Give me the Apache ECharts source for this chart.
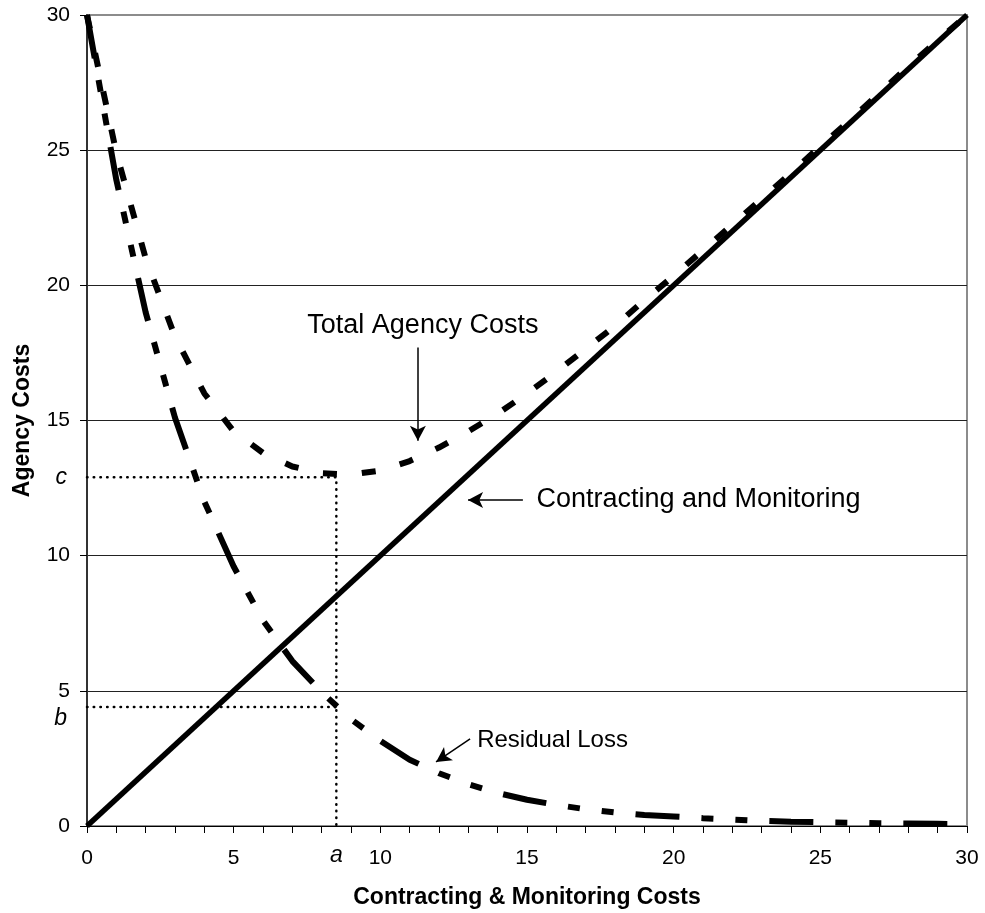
<!DOCTYPE html>
<html>
<head>
<meta charset="utf-8">
<title>Agency Costs</title>
<script src="https://cdn.jsdelivr.net/npm/echarts@6/dist/echarts.min.js"></script>
<style>
  html, body { margin: 0; padding: 0; background: #fff; }
  #chart { width: 985px; height: 913px; }
</style>
</head>
<body>
<div id="chart"></div>
<script>
// contracting & monitoring cost (x) at each step
const costX = [0, 1, 2, 3, 4, 5, 6, 7, 8, 9, 10, 11, 12, 13, 14, 15,
  16, 17, 18, 19, 20, 21, 22, 23, 24, 25, 26, 27, 28, 29, 30];
// residual loss
const residualLoss = [30, 23.9, 19.0, 15.1, 12.0, 9.6, 7.6, 6.1, 4.95, 3.95, 3.15,
  2.45, 1.95, 1.55, 1.22, 0.97, 0.78, 0.62, 0.5, 0.41, 0.35,
  0.29, 0.24, 0.19, 0.16, 0.14, 0.12, 0.1, 0.09, 0.08, 0.07];
// total agency costs
const totalCosts = [30, 24.9, 21.0, 18.1, 16.0, 14.6, 13.8, 13.3, 13.05, 13.0, 13.15,
  13.5, 14.0, 14.6, 15.25, 16.0, 16.8, 17.65, 18.5, 19.45, 20.35,
  21.3, 22.25, 23.2, 24.15, 25.15, 26.1, 27.1, 28.1, 29.05, 30];
// contracting and monitoring line (45 degree)
const contractX = [0, 30];
const contractY = [0, 30];
// marked optimum: a on x, b and c on y
const pointA = 8.5;
const pointB = 4.4;
const pointC = 12.9;
const yTicks = [0, 5, 10, 15, 20, 25, 30];

const FONT = '"Liberation Sans", Arial, sans-serif';

const chart = echarts.init(document.getElementById('chart'));

const dotted = { color: '#000', width: 2.5, type: [0.5, 6.2], cap: 'round' };

const option = {
  animation: false,
  backgroundColor: '#fff',
  textStyle: { fontFamily: FONT, color: '#000' },
  grid: {
    left: 87, right: 18, top: 15, bottom: 87,
    containLabel: false,
    outerBoundsMode: 'none',
    show: true,
    borderColor: '#8c8c8c',
    borderWidth: 2
  },
  xAxis: {
    type: 'value',
    min: 0, max: 30, interval: 1,
    name: 'Contracting & Monitoring Costs',
    nameLocation: 'middle',
    nameGap: 60,
    nameTextStyle: { fontFamily: FONT, fontWeight: 'bold', fontSize: 23, color: '#000' },
    axisLine: { show: true, onZero: false, lineStyle: { color: '#000', width: 1 } },
    axisTick: { show: true, length: 7, lineStyle: { color: '#000' } },
    axisLabel: {
      fontFamily: FONT, fontSize: 21, color: '#000', margin: 22,
      formatter: v => (v % 5 === 0 ? String(v) : '')
    },
    splitLine: { show: false }
  },
  yAxis: {
    type: 'value',
    min: 0, max: 30, interval: 5,
    name: 'Agency Costs',
    nameLocation: 'middle',
    nameGap: 53,
    nameTextStyle: { fontFamily: FONT, fontWeight: 'bold', fontSize: 23, color: '#000' },
    axisLine: { show: true, onZero: false, lineStyle: { color: '#333', width: 2 } },
    axisTick: { show: true, length: 7, lineStyle: { color: '#000' } },
    axisLabel: { fontFamily: FONT, fontSize: 21, color: '#000', margin: 17 },
    splitLine: {
      show: true,
      lineStyle: { color: yTicks.map(t => (t === 30 ? '#8c8c8c' : '#222')), width: 1 }
    }
  },
  series: [
    {
      name: 'Guides',
      type: 'line',
      symbol: 'none',
      z: 1,
      lineStyle: dotted,
      data: [[0, pointC], [pointA, pointC], [pointA, 0]]
    },
    {
      name: 'Guides b',
      type: 'line',
      symbol: 'none',
      z: 1,
      lineStyle: dotted,
      data: [[0, pointB], [pointA, pointB]]
    },
    {
      name: 'Total Agency Costs',
      type: 'line',
      symbol: 'none',
      z: 2,
      lineStyle: { color: '#000', width: 6, type: [14, 25], cap: 'butt' },
      data: costX.map((x, i) => [x, totalCosts[i]])
    },
    {
      name: 'Residual Loss',
      type: 'line',
      symbol: 'none',
      z: 2,
      lineStyle: { color: '#000', width: 6, type: [44, 22, 12, 22, 12, 22], cap: 'butt' },
      data: costX.map((x, i) => [x, residualLoss[i]])
    },
    {
      name: 'Contracting and Monitoring',
      type: 'line',
      symbol: 'none',
      z: 3,
      lineStyle: { color: '#000', width: 5.5 },
      data: contractX.map((x, i) => [x, contractY[i]])
    },
    {
      name: 'Arrows',
      type: 'line',
      data: [],
      silent: true,
      markLine: {
        silent: true,
        animation: false,
        symbol: ['none', 'arrow'],
        symbolSize: [12, 15],
        lineStyle: { color: '#000', width: 1.5, type: 'solid', opacity: 1 },
        itemStyle: { color: '#000', opacity: 1 },
        label: { show: false },
        emphasis: { disabled: true },
        data: [
          [{ coord: [11.28, 17.7] }, { coord: [11.28, 14.25] }],
          [{ coord: [14.86, 12.06] }, { coord: [12.99, 12.06] }],
          [{ coord: [13.06, 3.22] }, { coord: [11.9, 2.37] }]
        ]
      }
    },
    {
      name: 'Labels',
      type: 'scatter',
      symbolSize: 0,
      silent: true,
      clip: false,
      z: 5,
      itemStyle: { opacity: 1, color: '#000' },
      label: { show: true, fontFamily: FONT, fontSize: 24, color: '#000', opacity: 1 },
      data: [
        { value: [11.45, 18.53], label: { formatter: 'Total Agency Costs', position: 'inside', fontSize: 27, color: '#000' } },
        { value: [15.32, 12.06], label: { formatter: 'Contracting and Monitoring', position: 'right', distance: 0, fontSize: 27, color: '#000' } },
        { value: [13.3, 3.18], label: { formatter: 'Residual Loss', position: 'right', distance: 0, fontSize: 24, color: '#000' } },
        { value: [0, pointC], label: { formatter: 'c', position: 'left', distance: 20, fontSize: 23, fontStyle: 'italic', color: '#000' } },
        { value: [0, pointB], label: { formatter: 'b', position: 'left', distance: 20, offset: [0, 12], fontSize: 23, fontStyle: 'italic', color: '#000' } },
        { value: [pointA, 0], label: { formatter: 'a', position: 'bottom', distance: 18, fontSize: 23, fontStyle: 'italic', color: '#000' } }
      ]
    }
  ]
};

chart.setOption(option);
</script>
</body>
</html>
